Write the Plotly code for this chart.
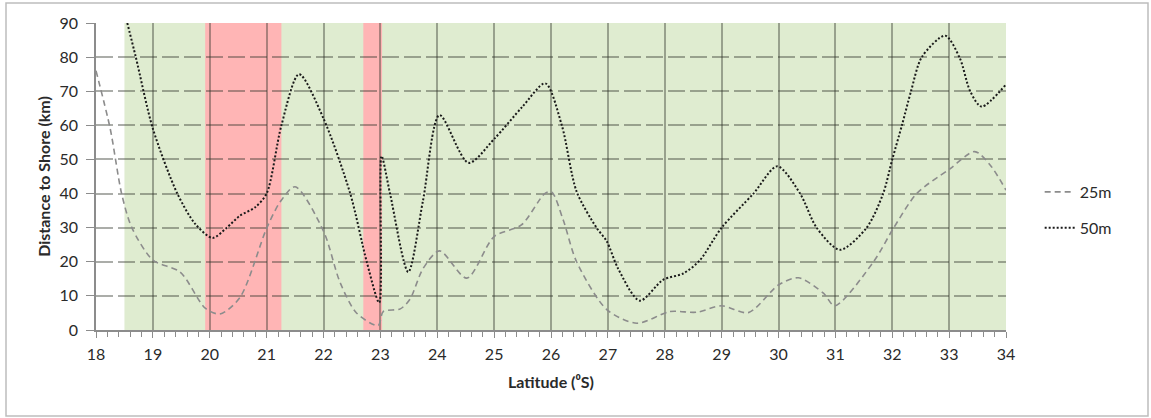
import plotly.graph_objects as go

# ---- data ----
lat_50m = [18.55, 18.7, 19.0, 19.43, 19.75, 20.05, 20.3, 20.53, 20.8, 21.0, 21.26, 21.57,
           22.0, 22.47, 22.76, 22.98, 23.02, 23.17, 23.49, 23.75, 24.04, 24.55, 25.0, 25.5,
           25.9, 26.19, 26.45, 26.8, 26.98, 27.18, 27.56, 27.97, 28.33, 28.62, 29.0, 29.56,
           29.98, 30.38, 30.67, 31.08, 31.55, 31.84, 32.0, 32.17, 32.33, 32.52, 32.93, 33.19,
           33.37, 33.57, 34.0]
dist_50m = [90, 80, 59, 40, 31, 27, 30, 33.5, 36, 40, 60, 75,
            62, 40, 20, 8, 51, 40, 17, 38, 63, 49, 56, 65.5,
            72.3, 60, 40.6, 30, 26, 18, 8.6, 14.7, 16.6, 20.5, 30, 40,
            48, 40, 30, 23.5, 30, 40, 50, 60, 70, 80, 86.3, 79.6,
            70, 65.5, 72]

lat_25m = [18.0, 18.25, 18.45, 18.63, 19.0, 19.48, 19.92, 20.18, 20.53, 21.0, 21.24, 21.5,
           22.0, 22.29, 22.58, 22.96, 23.05, 23.35, 23.52, 23.75, 24.04, 24.52, 25.0, 25.48,
           25.89, 26.01, 26.22, 26.45, 26.98, 27.51, 28.09, 28.56, 29.0, 29.47, 30.0, 30.35,
           30.79, 30.99, 31.67, 32.02, 32.43, 33.01, 33.45, 33.72, 34.0]
dist_25m = [76, 59, 40, 30, 20.5, 17, 6.4, 4.7, 9.5, 29.8, 37.6, 42,
            29, 14, 5, 1.3, 5.4, 6.2, 9, 18, 23.2, 15.2, 27.4, 30.8,
            40, 40.5, 32, 20, 6, 2, 5.4, 5.2, 7.1, 5.1, 13.2, 15.3,
            10.8, 7.1, 20, 29.8, 40, 47.2, 52.3, 48.4, 41]

# shaded latitude bands
green_band = (18.5, 34.0)
red_bands = [(19.92, 21.26), (22.7, 23.03)]

x_ticks = list(range(18, 35))
y_ticks = list(range(0, 100, 10))

FONT = "Lato, 'Open Sans', sans-serif"
GRID = "rgba(45,50,40,0.4)"

fig = go.Figure()

fig.add_trace(go.Scatter(
    x=lat_25m, y=dist_25m, name="25m", mode="lines", legendgroup="a",
    line=dict(color="#8c8c8c", width=1.6, dash="6px,4px", shape="spline", smoothing=0.8),
))
fig.add_trace(go.Scatter(
    x=lat_50m, y=dist_50m, name="50m", mode="lines", legendgroup="b",
    line=dict(color="#1a1a1a", width=2, dash="2px,2px", shape="spline", smoothing=0.8),
))

shapes = [dict(type="rect", xref="x", yref="y", x0=green_band[0], x1=green_band[1],
               y0=0, y1=90, fillcolor="#dfecd0", line=dict(width=0), layer="below")]
for a, b in red_bands:
    shapes.append(dict(type="rect", xref="x", yref="y", x0=a, x1=b, y0=0, y1=90,
                       fillcolor="#ffb5b5", line=dict(width=0), layer="below"))
# outer chart border
shapes.append(dict(type="rect", xref="paper", yref="paper",
                   x0=(6 - 96) / 910, x1=(1148 - 96) / 910,
                   y0=(330 - 416) / 307, y1=(330 - 3) / 307,
                   line=dict(color="#bdbdbd", width=1.5), fillcolor="rgba(0,0,0,0)"))

fig.update_layout(
    width=1151, height=418,
    margin=dict(l=96, r=145, t=23, b=88),
    paper_bgcolor="white", plot_bgcolor="white",
    font=dict(family=FONT, size=16, color="#2a2a2a"),
    shapes=shapes,
    showlegend=True,
    legend=dict(x=1.037, y=0.505, xanchor="left", yanchor="top",
                font=dict(size=16, color="#2a2a2a"), tracegroupgap=12,
                bgcolor="rgba(0,0,0,0)"),
)

fig.update_xaxes(
    range=[18, 34], tickvals=x_ticks, ticktext=[str(v) for v in x_ticks],
    showgrid=True, gridcolor=GRID, gridwidth=1.8,
    showline=True, linecolor="#8c8c8c", linewidth=1.5,
    ticks="outside", ticklen=6, tickcolor="#8c8c8c", tickwidth=1.3,
    minor=dict(dtick=0.2, ticks="outside", ticklen=5, tickcolor="#8c8c8c", tickwidth=1, showgrid=False),
    zeroline=False, ticklabelstandoff=3,
    title=dict(text="<b>Latitude (⁰S)</b>", font=dict(size=16, family=FONT), standoff=15),
    tickfont=dict(size=16),
)
fig.update_yaxes(
    range=[0, 90], tickvals=y_ticks,
    showgrid=True, gridcolor=GRID, gridwidth=1.8, griddash="17px,5px",
    showline=True, linecolor="#8c8c8c", linewidth=1.5,
    ticks="outside", ticklen=8, tickcolor="#8c8c8c", tickwidth=1.3,
    zeroline=False, ticklabelstandoff=5,
    title=dict(text="<b>Distance to Shore (km)</b>", font=dict(size=16, family=FONT), standoff=5),
    tickfont=dict(size=16),
)

fig.write_html("out.html", config={"displayModeBar": False},
               post_script="document.body.style.margin='0';")
